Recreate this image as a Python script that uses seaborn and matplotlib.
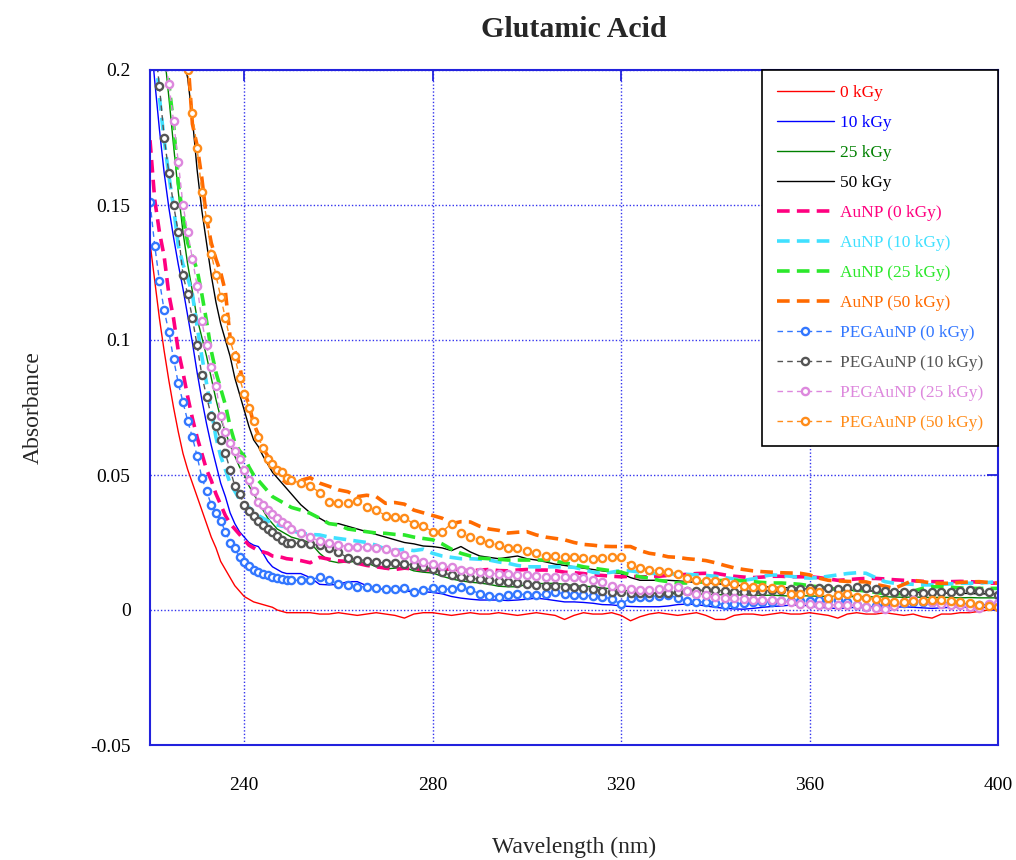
import matplotlib
matplotlib.use("Agg")
import matplotlib.pyplot as plt
import seaborn as sns

# ---------------- data ----------------
wavelength = list(range(220, 251)) + list(range(252, 401, 2))

gy_0 = [0.136, 0.122, 0.108, 0.096, 0.085, 0.075, 0.066, 0.058, 0.052, 0.047,
        0.042, 0.037, 0.032, 0.027, 0.023, 0.018, 0.015, 0.012, 0.009, 0.007,
        0.005, 0.004, 0.003, 0.0025, 0.002, 0.0015, 0.001, 0.0, -0.0005, -0.001,
        -0.001, -0.001, -0.001, -0.0015, -0.0015, -0.001, -0.0015, -0.002, -0.0015, -0.001,
        -0.0015, -0.002, -0.003, -0.0015, -0.001, -0.001, -0.0015, -0.002, -0.0015, -0.001,
        -0.0015, -0.0015, -0.001, -0.0015, -0.002, -0.0015, -0.001, -0.0015, -0.002, -0.0035,
        -0.002, -0.001, -0.0015, -0.0015, -0.001, -0.002, -0.004, -0.0025, -0.0015, -0.001,
        -0.0015, -0.002, -0.0015, -0.001, -0.002, -0.0035, -0.0035, -0.002, -0.0015, -0.0015,
        -0.002, -0.0015, -0.001, -0.0015, -0.0015, -0.001, -0.0015, -0.002, -0.003, -0.0015,
        -0.001, -0.0015, -0.0015, -0.001, -0.0015, -0.002, -0.0015, -0.0025, -0.003, -0.0015,
        -0.0015, -0.001, -0.001, -0.0005, 0.0, 0.0005]

gy_10 = [0.215, 0.196, 0.178, 0.162, 0.149, 0.138, 0.128, 0.119, 0.109, 0.099,
         0.088, 0.078, 0.069, 0.061, 0.054, 0.047, 0.042, 0.036, 0.032, 0.029,
         0.027, 0.025, 0.024, 0.0235, 0.021, 0.018, 0.016, 0.015, 0.014, 0.0135,
         0.0135, 0.0135, 0.012, 0.0095, 0.0093, 0.0095, 0.0105, 0.0105, 0.009, 0.008,
         0.0075, 0.0075, 0.007, 0.0068, 0.0068, 0.0065, 0.006, 0.005, 0.0044, 0.004,
         0.0037, 0.0037, 0.0037, 0.0035, 0.0037, 0.004, 0.0044, 0.004, 0.0035, 0.003,
         0.003, 0.0028, 0.0025, 0.002, 0.0019, 0.0015, 0.0013, 0.0012, 0.0012, 0.0012,
         0.0015, 0.002, 0.0022, 0.002, 0.0015, 0.001, 0.0006, 0.0004, 0.0003, 0.0006,
         0.001, 0.0013, 0.0015, 0.0018, 0.0019, 0.0015, 0.001, 0.0008, 0.0005, 0.0008,
         0.001, 0.0012, 0.001, 0.0008, 0.001, 0.0012, 0.001, 0.0008, 0.0006, 0.0008,
         0.001, 0.0012, 0.001, 0.0009, 0.001, 0.001]

gy_25 = [0.26, 0.245, 0.225, 0.207, 0.19, 0.172, 0.155, 0.14, 0.128, 0.118,
         0.108, 0.101, 0.094, 0.086, 0.078, 0.071, 0.066, 0.061, 0.057, 0.053,
         0.050, 0.046, 0.043, 0.040, 0.037, 0.034, 0.032, 0.030, 0.029, 0.028,
         0.027, 0.026, 0.025, 0.021, 0.0182, 0.0175, 0.0178, 0.018, 0.0175, 0.016,
         0.0152, 0.0155, 0.0158, 0.0145, 0.014, 0.0137, 0.0125, 0.0115, 0.0108, 0.0103,
         0.01, 0.0095, 0.0088, 0.0086, 0.0086, 0.0095, 0.0098, 0.0098, 0.0099, 0.0095,
         0.009, 0.0088, 0.0086, 0.0082, 0.0078, 0.0074, 0.007, 0.0063, 0.0062, 0.0062,
         0.0062, 0.006, 0.0062, 0.006, 0.0058, 0.0057, 0.0056, 0.0055, 0.0056, 0.0055,
         0.0054, 0.0055, 0.0053, 0.0052, 0.0053, 0.0052, 0.0051, 0.005, 0.0051, 0.005,
         0.0049, 0.005, 0.0048, 0.0049, 0.0048, 0.0047, 0.0048, 0.0047, 0.0046, 0.0047,
         0.0046, 0.0045, 0.0046, 0.0045, 0.0045, 0.0045]

gy_50 = [0.30, 0.28, 0.265, 0.25, 0.235, 0.225, 0.215, 0.205, 0.197, 0.182,
         0.163, 0.148, 0.136, 0.124, 0.114, 0.106, 0.1, 0.094, 0.086, 0.08,
         0.074, 0.068, 0.063, 0.0605, 0.057, 0.054, 0.051, 0.049, 0.047, 0.045,
         0.043, 0.039, 0.036, 0.034, 0.032, 0.032, 0.031, 0.030, 0.029, 0.028,
         0.027, 0.026, 0.025, 0.0245, 0.0237, 0.0235, 0.023, 0.022, 0.0235, 0.0215,
         0.020, 0.0195, 0.019, 0.0195, 0.020, 0.019, 0.0185, 0.0178, 0.017, 0.0165,
         0.016, 0.0155, 0.015, 0.0145, 0.014, 0.0135, 0.012, 0.011, 0.011, 0.011,
         0.011, 0.0108, 0.0105, 0.0102, 0.01, 0.0098, 0.0095, 0.0092, 0.009, 0.0088,
         0.0086, 0.0085, 0.0083, 0.0082, 0.008, 0.0078, 0.0077, 0.0076, 0.0075, 0.0074,
         0.0072, 0.0071, 0.007, 0.0069, 0.0068, 0.0067, 0.0066, 0.0065, 0.0064, 0.0063,
         0.0062, 0.0062, 0.0061, 0.006, 0.006, 0.006]

aunp_0 = [0.174, 0.152, 0.140, 0.131, 0.117, 0.108, 0.096, 0.088, 0.079, 0.071,
          0.064, 0.058, 0.052, 0.048, 0.043, 0.039, 0.035, 0.032, 0.030, 0.028,
          0.026, 0.024, 0.023, 0.022, 0.0215, 0.021, 0.020, 0.0198, 0.0195, 0.019,
          0.0188, 0.0183, 0.0175, 0.0195, 0.0188, 0.0182, 0.018, 0.0173, 0.0165, 0.016,
          0.0155, 0.015, 0.0155, 0.0152, 0.015, 0.0148, 0.015, 0.0152, 0.0148, 0.0145,
          0.0148, 0.015, 0.0146, 0.0145, 0.0148, 0.015, 0.0148, 0.0148, 0.0146, 0.014,
          0.0138, 0.0135, 0.013, 0.0128, 0.0125, 0.0123, 0.0125, 0.0123, 0.0123, 0.0125,
          0.0128, 0.013, 0.0132, 0.0135, 0.0136, 0.0136, 0.013, 0.0125, 0.0122, 0.012,
          0.0122, 0.0125, 0.0125, 0.0123, 0.0123, 0.0123, 0.012, 0.0115, 0.011, 0.0112,
          0.0115, 0.0117, 0.0117, 0.0115, 0.0112, 0.011, 0.0108, 0.0106, 0.0105, 0.0105,
          0.0105, 0.0106, 0.0105, 0.0103, 0.01, 0.0099]

aunp_10 = [0.235, 0.21, 0.19, 0.174, 0.161, 0.149, 0.135, 0.128, 0.123, 0.117,
           0.105, 0.094, 0.084, 0.074, 0.064, 0.057, 0.052, 0.047, 0.044, 0.041,
           0.039, 0.038, 0.0365, 0.035, 0.034, 0.033, 0.032, 0.0315, 0.031, 0.031,
           0.0295, 0.0284, 0.028, 0.0278, 0.027, 0.0265, 0.026, 0.0255, 0.025, 0.024,
           0.0225, 0.022, 0.0225, 0.022, 0.0225, 0.021, 0.020, 0.0195, 0.019, 0.019,
           0.0188, 0.0185, 0.0178, 0.0173, 0.0165, 0.016, 0.016, 0.016, 0.016, 0.016,
           0.0158, 0.015, 0.014, 0.0136, 0.014, 0.0146, 0.0145, 0.014, 0.0136, 0.0135,
           0.0134, 0.0133, 0.0132, 0.013, 0.0128, 0.0125, 0.012, 0.0115, 0.011, 0.0115,
           0.0125, 0.013, 0.0128, 0.0125, 0.012, 0.0118, 0.012, 0.0125, 0.013, 0.0135,
           0.0138, 0.0136, 0.012, 0.0105, 0.0099, 0.0097, 0.0095, 0.0093, 0.0093, 0.0095,
           0.0097, 0.0099, 0.0099, 0.01, 0.0102, 0.0105]

aunp_25 = [0.28, 0.258, 0.235, 0.21, 0.195, 0.18, 0.158, 0.146, 0.136, 0.131,
           0.126, 0.117, 0.107, 0.096, 0.088, 0.082, 0.076, 0.068, 0.062, 0.059,
           0.057, 0.053, 0.050, 0.048, 0.046, 0.044, 0.042, 0.041, 0.040, 0.039,
           0.038, 0.037, 0.0358, 0.034, 0.032, 0.0315, 0.030, 0.0295, 0.029, 0.0285,
           0.0284, 0.028, 0.0278, 0.027, 0.0265, 0.026, 0.0245, 0.0225, 0.021, 0.020,
           0.0192, 0.019, 0.0188, 0.0185, 0.0185, 0.0185, 0.0185, 0.0185, 0.018, 0.0175,
           0.0168, 0.016, 0.0155, 0.015, 0.0145, 0.014, 0.013, 0.0123, 0.0118, 0.011,
           0.0105, 0.01, 0.01, 0.0103, 0.0106, 0.0108, 0.011, 0.011, 0.0108, 0.0105,
           0.0102, 0.01, 0.01, 0.0098, 0.0095, 0.009, 0.0085, 0.008, 0.0077, 0.0075,
           0.0074, 0.007, 0.0065, 0.006, 0.0058, 0.0062, 0.007, 0.008, 0.0086, 0.0086,
           0.0084, 0.0082, 0.008, 0.008, 0.008, 0.008]

aunp_50 = [0.36, 0.33, 0.31, 0.29, 0.27, 0.255, 0.24, 0.225, 0.205, 0.18,
           0.172, 0.16, 0.145, 0.136, 0.13, 0.125, 0.118, 0.101, 0.096, 0.091,
           0.081, 0.076, 0.069, 0.065, 0.06, 0.057, 0.053, 0.051, 0.0485, 0.047,
           0.047, 0.048, 0.049, 0.047, 0.0458, 0.0445, 0.0438, 0.042, 0.0425, 0.042,
           0.0395, 0.0398, 0.0392, 0.037, 0.036, 0.035, 0.034, 0.032, 0.0327, 0.0326,
           0.031, 0.030, 0.0295, 0.0285, 0.0288, 0.029, 0.0278, 0.027, 0.0265, 0.026,
           0.025, 0.0243, 0.024, 0.0236, 0.0235, 0.0235, 0.0235, 0.022, 0.021, 0.0205,
           0.0197, 0.0195, 0.019, 0.0187, 0.0183, 0.0175, 0.0165, 0.0156, 0.015, 0.0145,
           0.0142, 0.014, 0.0138, 0.0137, 0.0136, 0.013, 0.0118, 0.011, 0.0108, 0.0106,
           0.0105, 0.0104, 0.0095, 0.0088, 0.008, 0.0095, 0.011, 0.0105, 0.01, 0.0099,
           0.0099, 0.0102, 0.0104, 0.0105, 0.0102, 0.0099]

peg_0 = [0.151, 0.135, 0.122, 0.111, 0.103, 0.093, 0.084, 0.077, 0.070, 0.064,
         0.057, 0.049, 0.044, 0.039, 0.036, 0.033, 0.029, 0.025, 0.023, 0.0195,
         0.0178, 0.0163, 0.015, 0.014, 0.0133, 0.0128, 0.0123, 0.0118, 0.0114, 0.011,
         0.011, 0.011, 0.011, 0.0123, 0.011, 0.0098, 0.0092, 0.0086, 0.0086, 0.0082,
         0.0076, 0.0078, 0.008, 0.0068, 0.0074, 0.008, 0.0076, 0.0078, 0.0086, 0.0075,
         0.006, 0.0052, 0.005, 0.0055, 0.006, 0.0056, 0.0056, 0.0058, 0.0066, 0.006,
         0.0056, 0.0054, 0.0052, 0.005, 0.004, 0.0022, 0.0045, 0.005, 0.005, 0.0053,
         0.0055, 0.0045, 0.0032, 0.003, 0.003, 0.0025, 0.002, 0.0022, 0.0025, 0.0028,
         0.003, 0.003, 0.0032, 0.0033, 0.0035, 0.0035, 0.0036, 0.0037, 0.0037, 0.003,
         0.002, 0.0012, 0.0015, 0.002, 0.0022, 0.0025, 0.0028, 0.003, 0.003, 0.0028,
         0.0025, 0.0025, 0.0022, 0.002, 0.002, 0.002]

peg_10 = [0.23, 0.21, 0.194, 0.175, 0.162, 0.15, 0.14, 0.124, 0.117, 0.108,
          0.098, 0.087, 0.079, 0.072, 0.068, 0.063, 0.058, 0.052, 0.046, 0.043,
          0.039, 0.0365, 0.035, 0.033, 0.0315, 0.030, 0.029, 0.0275, 0.026, 0.025,
          0.0247, 0.0247, 0.0245, 0.024, 0.023, 0.0215, 0.0192, 0.0187, 0.0183, 0.0178,
          0.0173, 0.0173, 0.0172, 0.0165, 0.016, 0.0152, 0.014, 0.0128, 0.0122, 0.0118,
          0.0115, 0.0112, 0.0108, 0.0105, 0.01, 0.0096, 0.0093, 0.009, 0.0088, 0.0086,
          0.0086, 0.0082, 0.0077, 0.007, 0.0068, 0.0066, 0.0063, 0.0062, 0.0062, 0.0062,
          0.0064, 0.0066, 0.007, 0.0072, 0.0074, 0.0074, 0.007, 0.0068, 0.0068, 0.0068,
          0.007, 0.0074, 0.0074, 0.0076, 0.0078, 0.008, 0.008, 0.008, 0.0078, 0.0082,
          0.0086, 0.0082, 0.0076, 0.007, 0.0068, 0.0066, 0.0064, 0.0062, 0.0065, 0.0068,
          0.0068, 0.007, 0.0074, 0.0072, 0.0065, 0.0055]

peg_25 = [0.26, 0.24, 0.222, 0.207, 0.195, 0.181, 0.166, 0.15, 0.14, 0.13,
          0.12, 0.107, 0.098, 0.09, 0.083, 0.072, 0.066, 0.062, 0.059, 0.056,
          0.052, 0.048, 0.044, 0.040, 0.039, 0.037, 0.0355, 0.034, 0.0325, 0.0315,
          0.030, 0.0285, 0.027, 0.0255, 0.025, 0.024, 0.0235, 0.0235, 0.0233, 0.023,
          0.0225, 0.0215, 0.0205, 0.019, 0.0178, 0.017, 0.0163, 0.0158, 0.015, 0.0145,
          0.014, 0.0136, 0.0135, 0.0132, 0.013, 0.0128, 0.0125, 0.0123, 0.0123, 0.0123,
          0.0123, 0.0118, 0.011, 0.0102, 0.009, 0.0082, 0.0078, 0.0075, 0.0074, 0.0078,
          0.0084, 0.0085, 0.007, 0.006, 0.0054, 0.005, 0.0046, 0.0043, 0.004, 0.0038,
          0.0037, 0.0036, 0.0033, 0.0028, 0.0024, 0.0021, 0.0019, 0.0019, 0.0019, 0.0019,
          0.0018, 0.0012, 0.0006, 0.0002, 0.0015, 0.003, 0.0037, 0.0033, 0.0028, 0.0024,
          0.002, 0.0018, 0.001, 0.0008, 0.0022, 0.0025]

peg_50 = [0.33, 0.31, 0.29, 0.27, 0.255, 0.24, 0.225, 0.212, 0.2, 0.184,
          0.171, 0.155, 0.145, 0.132, 0.124, 0.116, 0.108, 0.1, 0.094, 0.086,
          0.08, 0.075, 0.07, 0.064, 0.06, 0.056, 0.054, 0.052, 0.051, 0.049,
          0.048, 0.047, 0.046, 0.0435, 0.040, 0.0395, 0.0395, 0.0405, 0.038, 0.037,
          0.035, 0.0345, 0.034, 0.032, 0.031, 0.029, 0.029, 0.032, 0.0285, 0.027,
          0.026, 0.025, 0.024, 0.023, 0.0228, 0.022, 0.021, 0.020, 0.020, 0.0198,
          0.0197, 0.0193, 0.019, 0.0192, 0.0198, 0.0195, 0.0165, 0.0155, 0.015, 0.0145,
          0.014, 0.0135, 0.012, 0.011, 0.0108, 0.0106, 0.0104, 0.0098, 0.009, 0.0087,
          0.0085, 0.0082, 0.0078, 0.006, 0.0058, 0.0072, 0.0068, 0.0045, 0.0055, 0.006,
          0.005, 0.0043, 0.004, 0.0035, 0.003, 0.003, 0.0032, 0.0035, 0.0037, 0.0037,
          0.0035, 0.003, 0.0026, 0.002, 0.0015, 0.0012]

series_labels = ["0 kGy", "10 kGy", "25 kGy", "50 kGy",
                 "AuNP (0 kGy)", "AuNP (10 kGy)", "AuNP (25 kGy)", "AuNP (50 kGy)",
                 "PEGAuNP (0 kGy)", "PEGAuNP (10 kGy)", "PEGAuNP (25 kGy)", "PEGAuNP (50 kGy)"]
series_values = [gy_0, gy_10, gy_25, gy_50,
                 aunp_0, aunp_10, aunp_25, aunp_50,
                 peg_0, peg_10, peg_25, peg_50]

x_ticks = [240, 280, 320, 360, 400]
y_ticks = [-0.05, 0, 0.05, 0.1, 0.15, 0.2]
y_tick_labels = ["-0.05", "0", "0.05", "0.1", "0.15", "0.2"]

# ---------------- styles ----------------
colors = ["#FF0000", "#0000FF", "#008000", "#000000",
          "#FF0080", "#40E0FF", "#2BE82B", "#FF6A00",
          "#3377FF", "#555555", "#DD88DD", "#FF8C1A"]
kinds = ["solid"] * 4 + ["dash"] * 4 + ["marker"] * 4

sns.set_theme(style="white")
plt.rcParams['font.family'] = ['Liberation Serif', 'DejaVu Serif']

fig = plt.figure(figsize=(10.16, 8.6), dpi=100)
ax = fig.add_axes([150 / 1016, 1 - 745 / 860, 848 / 1016, 675 / 860])

for lab, vals, col, kind in zip(series_labels, series_values, colors, kinds):
    if kind == "solid":
        kw = dict(linewidth=1.0, linestyle="-")
    elif kind == "dash":
        kw = dict(linewidth=2.6, linestyle=(0, (3.5, 2.0)))
    else:
        kw = dict(linewidth=1.0, linestyle=(0, (4, 3)), marker="o", markersize=5.2,
                  markerfacecolor="white", markeredgecolor=col, markeredgewidth=1.7)
    sns.lineplot(x=wavelength, y=vals, ax=ax, color=col, label=lab,
                 errorbar=None, sort=False, legend=False, **kw)

ax.set_xlim(220, 400)
ax.set_ylim(-0.05, 0.2)
ax.set_xticks(x_ticks)
ax.set_xticklabels([str(v) for v in x_ticks])
ax.set_yticks(y_ticks)
ax.set_yticklabels(y_tick_labels)

axis_blue = "#2222DD"
ax.tick_params(axis="both", direction="in", length=8, width=1.3, color=axis_blue,
               top=True, right=True, labelsize=14, labelcolor="black")
ax.tick_params(axis="x", pad=23)
ax.tick_params(axis="y", pad=14)
for sp in ax.spines.values():
    sp.set_color(axis_blue)
    sp.set_linewidth(1.5)
ax.grid(True, color="#3333EE", linestyle=(0, (1, 1.5)), linewidth=1.0)
ax.set_axisbelow(True)

ax.set_title("Glutamic Acid", fontsize=21.5, fontweight="bold", pad=24)
ax.set_xlabel("Wavelength (nm)", fontsize=17, labelpad=31)
ax.set_ylabel("Absorbance", fontsize=17, labelpad=33)

leg = ax.legend(loc="upper right", bbox_to_anchor=(1, 1), borderaxespad=0,
                frameon=True, fancybox=False, edgecolor="black", framealpha=1,
                fontsize=12.5, handlelength=3.3, handletextpad=0.35,
                labelspacing=0.8, borderpad=0.85, numpoints=1)
leg.get_frame().set_linewidth(1.2)
for t, h in zip(leg.get_texts(), leg.get_lines()):
    t.set_color(h.get_color())

fig.savefig("out.png", dpi=100)
